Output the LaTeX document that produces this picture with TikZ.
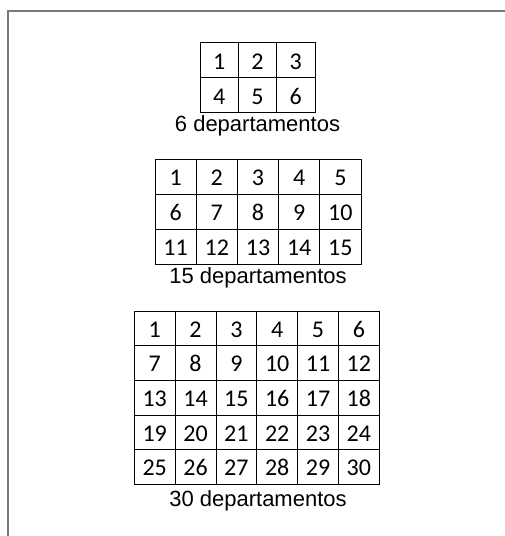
\documentclass[tikz,border=0pt]{standalone}
\usepackage{fontspec}
\setmainfont{Liberation Sans}
\newfontfamily\digitfont[Numbers=Lining]{Carlito}
\begin{document}
\begin{tikzpicture}[x=1pt,y=-1pt,
  cellbox/.style={draw=black, line width=0.9pt, inner sep=0pt, anchor=center,
    text height=18pt, text depth=0pt,
    font=\digitfont\fontsize{24}{24}\selectfont},
  captiontext/.style={anchor=base, inner sep=0pt, font=\fontsize{22}{22}\selectfont},
  framestyle/.style={draw=black!52, line width=1.5pt}]
\useasboundingbox (0,0) rectangle (505,536);
\draw[framestyle] (8,536) -- (8,11) -- (505,11);
% grid 1
\foreach \r in {1,2}{\foreach \c in {1,2,3}{
  \pgfmathtruncatemacro{\n}{(\r-1)*3+\c}
  \node[cellbox, minimum width=38.33pt, minimum height=35pt] (ga-\r-\c) at ({200+(\c-0.5)*38.33},{42.7+(\r-0.5)*35}) {\n};
}}
\node[captiontext] (capa) at (257.5,131.7) {6 departamentos};
% grid 2
\foreach \r in {1,2,3}{\foreach \c in {1,...,5}{
  \pgfmathtruncatemacro{\n}{(\r-1)*5+\c}
  \node[cellbox, minimum width=41.2pt, minimum height=35pt] (gb-\r-\c) at ({155+(\c-0.5)*41.2},{159.3+(\r-0.5)*35}) {\n};
}}
\node[captiontext] (capb) at (258,283) {15 departamentos};
% grid 3
\foreach \r in {1,...,5}{\foreach \c in {1,...,6}{
  \pgfmathtruncatemacro{\n}{(\r-1)*6+\c}
  \node[cellbox, minimum width=40.83pt, minimum height=34.66pt] (gc-\r-\c) at ({134.3+(\c-0.5)*40.83},{311+(\r-0.5)*34.66}) {\n};
}}
\node[captiontext] (capc) at (258,506.7) {30 departamentos};
\end{tikzpicture}
\end{document}
